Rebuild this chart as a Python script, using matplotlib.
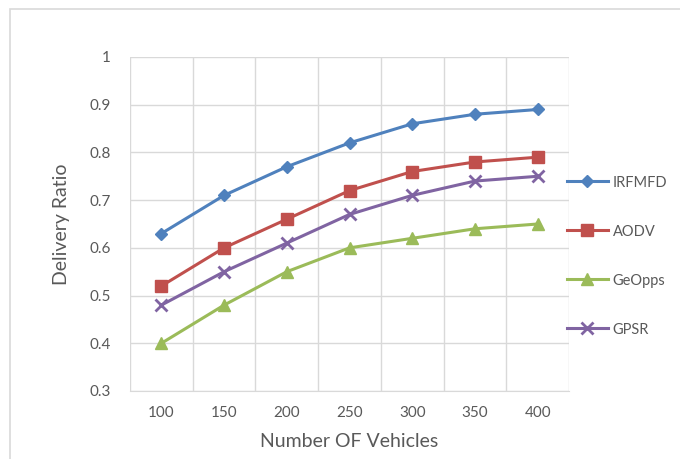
import matplotlib.pyplot as plt
from matplotlib.patches import Rectangle

vehicles = ['100', '150', '200', '250', '300', '350', '400']
irfmfd = [0.63, 0.71, 0.77, 0.82, 0.86, 0.88, 0.89]
aodv = [0.52, 0.60, 0.66, 0.72, 0.76, 0.78, 0.79]
geopps = [0.40, 0.48, 0.55, 0.60, 0.62, 0.64, 0.65]
gpsr = [0.48, 0.55, 0.61, 0.67, 0.71, 0.74, 0.75]

plt.rcParams['font.family'] = ['Lato', 'DejaVu Sans']

fig = plt.figure(figsize=(6.8, 4.59), dpi=100)
fig.patches.append(Rectangle((10 / 680, -0.1), 1.0, 1 - 9 / 459 + 0.1, transform=fig.transFigure,
                             fill=False, edgecolor='#D9D9D9', linewidth=1.2))
ax = fig.add_axes([130 / 680, 1 - 391 / 459, 439 / 680, 334 / 459])

x = list(range(len(vehicles)))
series = [
    ('IRFMFD', irfmfd, '#4F81BD', 'D', 6),
    ('AODV', aodv, '#C0504D', 's', 8),
    ('GeOpps', geopps, '#9BBB59', '^', 8),
    ('GPSR', gpsr, '#8064A2', 'x', 8),
]
for name, vals, col, mk, ms in series:
    ax.plot(x, vals, color=col, marker=mk, markersize=ms, linewidth=2.2, label=name,
            markeredgewidth=2 if mk == 'x' else 1)

ax.set_xlim(-0.5, len(vehicles) - 0.5)
ax.set_ylim(0.3, 1.0)
ax.set_yticks([0.3, 0.4, 0.5, 0.6, 0.7, 0.8, 0.9, 1.0])
ax.set_yticklabels(['0.3', '0.4', '0.5', '0.6', '0.7', '0.8', '0.9', '1'])
ax.set_xticks(x)
ax.set_xticklabels(vehicles)
ax.set_xticks([i - 0.5 for i in range(len(vehicles) + 1)], minor=True)
ax.tick_params(which='both', length=0, colors='#595959', labelsize=11)
ax.tick_params(axis='x', pad=11)
ax.tick_params(axis='y', pad=14)
ax.grid(True, axis='y', color='#D9D9D9', linewidth=1)
ax.grid(True, axis='x', which='minor', color='#D9D9D9', linewidth=1)
ax.set_axisbelow(True)
for s in ax.spines.values():
    s.set_visible(False)
ax.spines['bottom'].set_visible(True)
ax.spines['bottom'].set_color('#D9D9D9')

ax.set_xlabel('Number OF Vehicles', fontsize=14, color='#595959', labelpad=9)
ax.set_ylabel('Delivery Ratio', fontsize=14, color='#595959', labelpad=14)

leg = ax.legend(loc='center left', bbox_to_anchor=(0.995, 0.404), frameon=False,
                borderaxespad=0, borderpad=0,
                fontsize=10.5, labelspacing=2.4, handlelength=2.8, handletextpad=0.35)
for t in leg.get_texts():
    t.set_color('#595959')

fig.savefig('out.png', dpi=100)
